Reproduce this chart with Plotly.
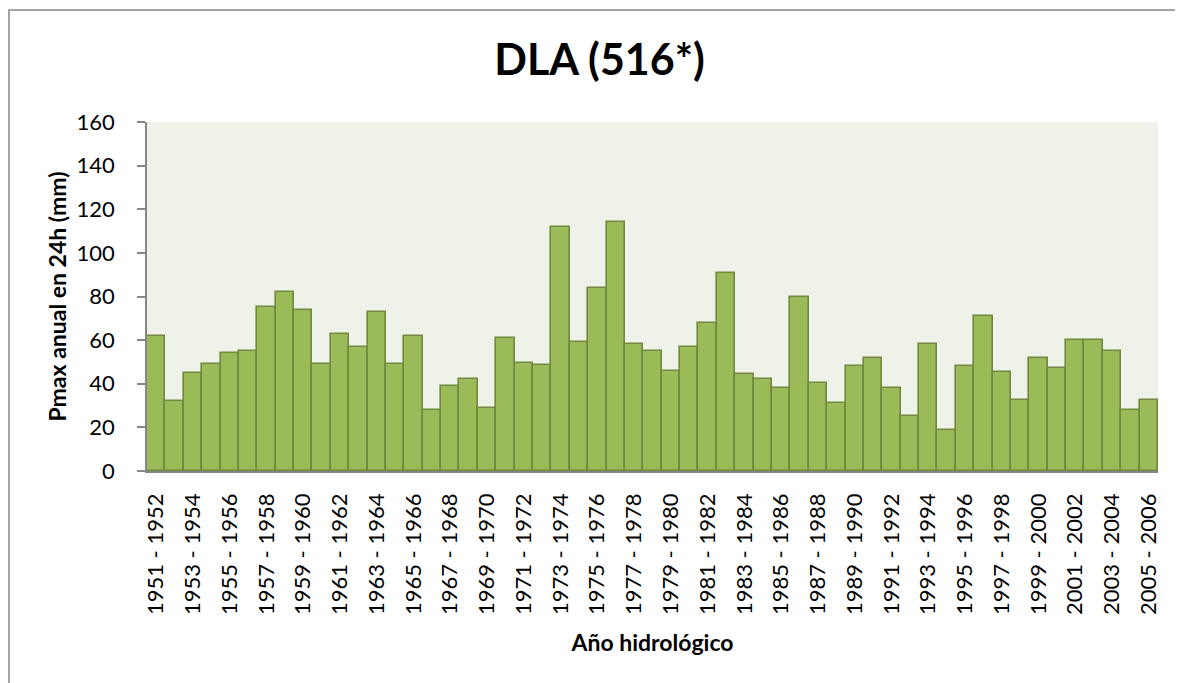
import plotly.graph_objects as go

# Año hidrológico (1951-1952 ... 2005-2006)
years = [f"{y} - {y + 1}" for y in range(1951, 2006)]

# Pmax anual en 24h (mm)
pmax = [62, 32, 45, 49, 54, 55, 75, 82, 74, 49,
        63, 57, 73, 49, 62, 28, 39, 42, 29, 61,
        49.5, 48.5, 112, 59, 84, 114, 58, 55, 46, 57,
        68, 91, 44.5, 42, 38, 80, 40.5, 31, 48, 52,
        38, 25, 58, 19, 48, 71, 45.5, 32.5, 52, 47,
        60, 60, 55, 28, 32.5]

yticks = [0, 20, 40, 60, 80, 100, 120, 140, 160]
xticks_shown = years[::2]

FONT = "Lato"
L, T, PW, PH = 139, 114, 1011, 349   # plot area (the page adds ~8px body margin)

fig = go.Figure()
fig.add_trace(go.Bar(x=years, y=pmax,
                     marker=dict(color="#9BBB59",
                                 line=dict(color="#71893F", width=1.6))))

fig.update_layout(
    width=1183, height=683,
    margin=dict(l=L, r=1183 - L - PW, t=T, b=683 - T - PH),
    paper_bgcolor="white",
    plot_bgcolor="#EEF2E8",
    bargap=0,
    showlegend=False,
    font=dict(family=FONT, color="black"),
    title=dict(text="<b>DLA (516*)</b>", x=0.5, xanchor="center",
               y=0.924, yanchor="middle",
               font=dict(family=FONT, size=43, color="black")),
)

fig.update_yaxes(range=[0, 160], tickvals=yticks, showgrid=False, zeroline=False,
                 showline=True, linecolor="#868686", linewidth=1.5,
                 ticks="outside", ticklen=8, tickcolor="#868686", tickwidth=1.5,
                 tickfont=dict(size=22), ticklabelstandoff=18,
                 title=dict(text="<b>Pmax anual en 24h (mm)</b>",
                            font=dict(size=23), standoff=4))

fig.update_xaxes(tickvals=xticks_shown, tickangle=-90, showgrid=False,
                 showline=True, linecolor="#868686", linewidth=1.5,
                 ticks="", tickfont=dict(size=22), ticklabelstandoff=12,
                 title=dict(text="<b>Año hidrológico</b>",
                            font=dict(size=23), standoff=21))

# marco exterior del gráfico
fig.add_shape(type="rect", xref="paper", yref="paper",
              x0=-(L - 1) / PW, x1=1.2, y0=-0.8, y1=1 + (T - 2) / PH,
              line=dict(color="#878787", width=1.5), layer="below")

fig.write_html("out.html")
